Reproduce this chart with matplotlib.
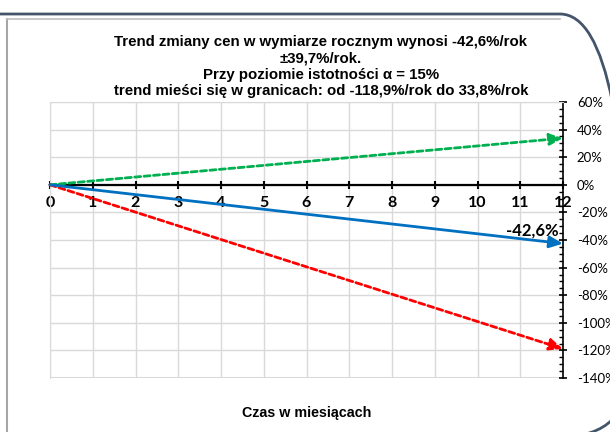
import matplotlib.pyplot as plt
from matplotlib.patches import FancyBboxPatch
from matplotlib.lines import Line2D
from matplotlib.ticker import MultipleLocator, FuncFormatter

# dane
months = [0, 12]
trend = [0, -42.6]
upper = [0, 33.8]
lower = [0, -118.9]
trend_label = "-42,6%"
title_lines = [
    "Trend zmiany cen w wymiarze rocznym wynosi -42,6%/rok",
    "±39,7%/rok.",
    "Przy poziomie istotności α = 15%",
    "trend mieści się w granicach: od -118,9%/rok do 33,8%/rok",
]
x_ticks = list(range(0, 13))
y_ticks = [60, 40, 20, 0, -20, -40, -60, -80, -100, -120, -140]

fig = plt.figure(figsize=(6.1, 4.32), dpi=100)

# ramka wykresu (zaokraglony prostokat, tak jak w Excelu)
frame = FancyBboxPatch((-1.5, -0.05), 7.8, 4.23,
                       boxstyle="round,pad=0,rounding_size=0.7",
                       transform=fig.dpi_scale_trans, fill=False,
                       ec="#44546A", lw=2)
fig.add_artist(frame)
fig.add_artist(Line2D([0.07, 0.07], [0, 4.13], transform=fig.dpi_scale_trans,
                      color="#A6A6A6", lw=1.5))
fig.add_artist(Line2D([0.07, 5.6], [4.13, 4.13], transform=fig.dpi_scale_trans,
                      color="#BFBFBF", lw=1.2))

ax = fig.add_axes([50 / 610, 54 / 432, 513 / 610, 276 / 432])
ax.set_xlim(0, 12)
ax.set_ylim(-140, 60)

# siatka
ax.set_xticks(x_ticks)
ax.set_yticks(y_ticks)
ax.grid(True, color="#D9D9D9", lw=1)
ax.set_axisbelow(True)
ax.axhline(-140, color="#D9D9D9", lw=1.5, zorder=0)

# os X na poziomie 0
ax.spines["bottom"].set_position(("data", 0))
ax.spines["bottom"].set_color("black")
ax.spines["bottom"].set_linewidth(1.6)
ax.spines["left"].set_color("#D9D9D9")
ax.spines["top"].set_color("#D9D9D9")
ax.spines["right"].set_color("black")
ax.spines["right"].set_linewidth(1.2)
ax.tick_params(axis="x", direction="inout", length=6, width=1.5, pad=5,
               labelsize=11.5)
for lab in ax.get_xticklabels():
    lab.set_fontweight("bold")
    lab.set_fontfamily("Lato")

# os Y po prawej stronie
ax.yaxis.tick_right()
ax.yaxis.set_minor_locator(MultipleLocator(5))
ax.yaxis.set_major_formatter(FuncFormatter(lambda v, p: f"{v:.0f}%"))
ax.tick_params(axis="y", which="major", direction="inout", length=6,
               width=1.2, pad=7, labelsize=9.5)
ax.tick_params(axis="y", which="minor", direction="in", length=3, width=1)
for lab in ax.get_yticklabels():
    lab.set_fontfamily("Lato")

# linie trendu ze strzalkami
def arrow(xs, ys, color, style):
    ax.annotate("", xy=(xs[-1], ys[-1]), xytext=(xs[0], ys[0]),
                arrowprops=dict(arrowstyle="-|>,head_length=0.8,head_width=0.35",
                                color=color, lw=2, linestyle=style,
                                shrinkA=0, shrinkB=0),
                annotation_clip=False)

arrow(months, upper, "#00B050", (0, (2.2, 1.2)))
arrow(months, lower, "#FF0000", (0, (2.2, 1.2)))
arrow(months, trend, "#0070C0", "-")

ax.text(11.28, -33, trend_label, ha="center", va="center",
        fontsize=12, fontweight="bold", family="Lato")

# tytul
for i, line in enumerate(title_lines):
    fig.text(321 / 610, 1 - (42 + i * 16.5) / 432, line, ha="center",
             va="center", fontsize=10.8, fontweight="bold",
             family="Liberation Sans")

fig.text(307 / 610, 1 - 413 / 432, "Czas w miesiącach", ha="center",
         va="center", fontsize=10.3, fontweight="bold", family="Liberation Sans")

fig.savefig("out.png", dpi=100)
